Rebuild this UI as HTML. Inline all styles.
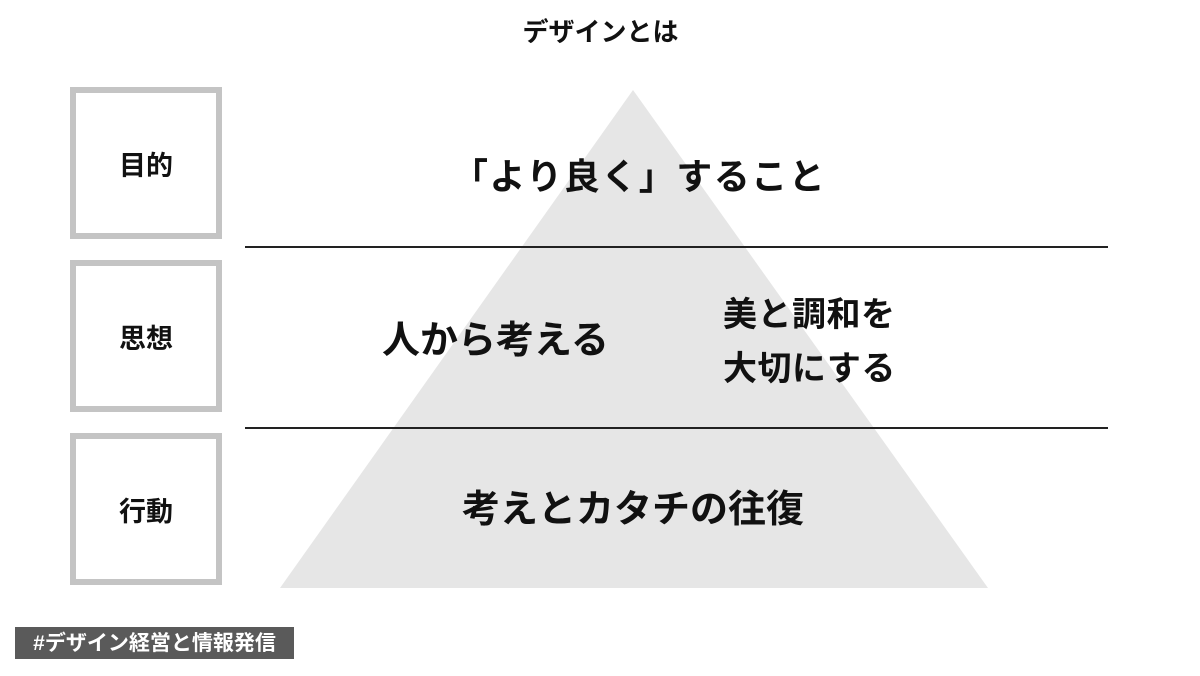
<!DOCTYPE html>
<html><head><meta charset="utf-8"><style>
body{margin:0;width:1200px;height:676px;background:#fff;position:relative;overflow:hidden;font-family:"Liberation Sans","Noto Sans CJK JP",sans-serif;font-weight:bold;color:#111}
.t{position:absolute;white-space:nowrap;line-height:1}
.box{position:absolute;left:70px;width:140px;height:140px;border:6px solid #c4c4c4;display:flex;align-items:center;justify-content:center;font-size:27px}
.line{position:absolute;left:245px;width:863px;height:1.5px;background:#222}
</style></head><body>
<svg width="1200" height="676" style="position:absolute;left:0;top:0"><polygon points="633,90 988,588 280,588" fill="#e6e6e6"/></svg>
<div class="t" style="left:517px;top:19px;font-size:26px;width:167px;text-align:center">デザインとは</div>
<div class="box" style="top:87px">目的</div>
<div class="box" style="top:260px">思想</div>
<div class="box" style="top:433px">行動</div>
<div class="line" style="top:246px"></div>
<div class="line" style="top:427px"></div>
<div class="t" style="left:452px;top:159px;font-size:36px;letter-spacing:1.5px">「より良く」すること</div>
<div class="t" style="left:382px;top:322px;font-size:38px">人から考える</div>
<div class="t" style="left:723px;top:288px;font-size:34px;line-height:54px;letter-spacing:0.5px">美と調和を<br>大切にする</div>
<div class="t" style="left:462px;top:491px;font-size:38px">考えとカタチの往復</div>
<div class="t" style="left:15px;top:627px;width:279px;height:32px;background:#5a5a5a;color:#fff;font-size:21px;font-weight:bold;display:flex;align-items:center;justify-content:center">#デザイン経営と情報発信</div>
</body></html>
